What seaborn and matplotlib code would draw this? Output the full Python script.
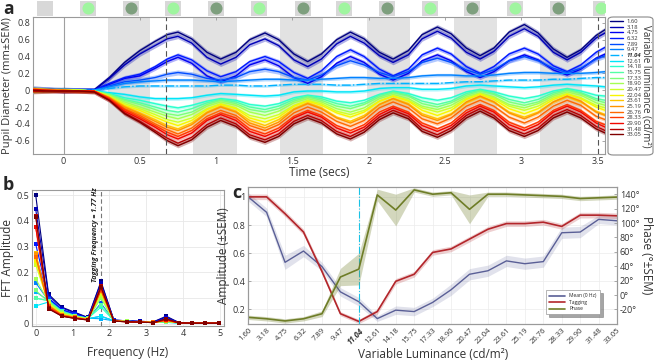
import numpy as np
import pandas as pd
import seaborn as sns
import matplotlib.pyplot as plt
from matplotlib.lines import Line2D
from matplotlib.patches import FancyBboxPatch

sns.set_style('white')
plt.rcParams['font.family'] = ['Open Sans', 'DejaVu Sans']
plt.rcParams['axes.unicode_minus'] = False

# luminance levels (cd/m2)
lum_labels = ['1.60', '3.18', '4.75', '6.32', '7.89', '9.47', '11.04', '12.61',
              '14.18', '15.75', '17.33', '18.90', '20.47', '22.04', '23.61',
              '25.19', '26.76', '28.33', '29.90', '31.48', '33.05']

# ---- panel a: pupil traces (mm)
t_pre = [-0.2, -0.1, 0.0, 0.1, 0.2, 0.3, 0.4, 0.5, 0.6, 0.68]
t_osc = [0.75, 0.84, 0.94, 1.03, 1.13, 1.22, 1.32, 1.41, 1.51, 1.60, 1.69, 1.79,
         1.88, 1.97, 2.07, 2.16, 2.26, 2.35, 2.45, 2.54, 2.64, 2.73, 2.82, 2.92,
         3.02, 3.11, 3.21, 3.30, 3.39, 3.49, 3.55]
time = t_pre + t_osc

pupil_1_60 = [0.02, 0.01, 0.00, 0.00, 0.00, 0.15, 0.33, 0.47, 0.58, 0.66, 0.69, 0.61, 0.45, 0.37, 0.45, 0.60, 0.68, 0.60, 0.43, 0.34, 0.43, 0.60, 0.69, 0.61, 0.45, 0.37, 0.47, 0.66, 0.75, 0.67, 0.50, 0.41, 0.50, 0.69, 0.78, 0.68, 0.49, 0.39, 0.48, 0.65, 0.72]
pupil_3_18 = [-0.01, 0.00, 0.01, 0.00, 0.00, 0.14, 0.30, 0.43, 0.53, 0.61, 0.64, 0.56, 0.39, 0.31, 0.39, 0.54, 0.61, 0.53, 0.36, 0.28, 0.37, 0.55, 0.64, 0.56, 0.41, 0.33, 0.42, 0.61, 0.70, 0.62, 0.45, 0.37, 0.46, 0.64, 0.73, 0.64, 0.45, 0.36, 0.45, 0.62, 0.68]
pupil_4_75 = [0.01, 0.00, -0.01, 0.00, 0.00, 0.07, 0.14, 0.17, 0.26, 0.34, 0.39, 0.32, 0.17, 0.10, 0.17, 0.30, 0.36, 0.29, 0.15, 0.08, 0.16, 0.32, 0.40, 0.33, 0.19, 0.12, 0.20, 0.35, 0.42, 0.35, 0.22, 0.15, 0.22, 0.35, 0.42, 0.36, 0.24, 0.18, 0.25, 0.38, 0.43]
pupil_6_32 = [0.00, 0.01, 0.00, 0.00, 0.00, 0.08, 0.15, 0.19, 0.28, 0.37, 0.42, 0.36, 0.23, 0.16, 0.22, 0.34, 0.40, 0.34, 0.21, 0.14, 0.23, 0.40, 0.48, 0.40, 0.25, 0.17, 0.25, 0.42, 0.50, 0.43, 0.28, 0.20, 0.28, 0.43, 0.50, 0.43, 0.29, 0.22, 0.30, 0.45, 0.51]
pupil_7_89 = [0.02, 0.01, 0.00, 0.00, 0.00, 0.05, 0.10, 0.12, 0.15, 0.19, 0.21, 0.19, 0.14, 0.12, 0.15, 0.22, 0.25, 0.22, 0.15, 0.12, 0.18, 0.29, 0.35, 0.30, 0.21, 0.16, 0.22, 0.33, 0.38, 0.33, 0.24, 0.19, 0.24, 0.35, 0.40, 0.35, 0.26, 0.21, 0.26, 0.37, 0.41]
pupil_9_47 = [0.00, 0.00, 0.01, 0.00, 0.00, 0.04, 0.08, 0.10, 0.11, 0.12, 0.12, 0.12, 0.11, 0.10, 0.11, 0.12, 0.13, 0.13, 0.12, 0.12, 0.13, 0.14, 0.15, 0.15, 0.14, 0.14, 0.15, 0.17, 0.18, 0.18, 0.17, 0.17, 0.18, 0.20, 0.21, 0.21, 0.20, 0.20, 0.20, 0.21, 0.22]
pupil_11_04 = [0.01, 0.00, 0.00, 0.00, 0.00, 0.02, 0.04, 0.05, 0.05, 0.05, 0.05, 0.05, 0.05, 0.06, 0.06, 0.05, 0.05, 0.06, 0.07, 0.07, 0.07, 0.06, 0.06, 0.07, 0.08, 0.08, 0.08, 0.08, 0.08, 0.09, 0.10, 0.10, 0.11, 0.12, 0.12, 0.12, 0.13, 0.13, 0.14, 0.15, 0.15]
pupil_12_61 = [0.00, -0.01, 0.00, 0.00, -0.01, -0.03, -0.05, -0.08, -0.10, -0.10, -0.10, -0.09, -0.06, -0.04, -0.05, -0.06, -0.07, -0.06, -0.02, -0.01, -0.01, -0.02, -0.02, -0.01, 0.02, 0.03, 0.03, 0.01, 0.01, 0.02, 0.05, 0.06, 0.05, 0.04, 0.03, 0.04, 0.06, 0.07, 0.06, 0.05, 0.04]
pupil_14_18 = [0.01, 0.00, 0.00, 0.00, -0.01, -0.04, -0.09, -0.12, -0.16, -0.19, -0.21, -0.18, -0.13, -0.10, -0.12, -0.17, -0.19, -0.16, -0.09, -0.06, -0.08, -0.13, -0.15, -0.12, -0.05, -0.01, -0.04, -0.09, -0.12, -0.09, -0.02, 0.01, -0.02, -0.07, -0.10, -0.07, -0.01, 0.02, -0.01, -0.06, -0.07]
pupil_15_75 = [-0.01, 0.00, 0.00, 0.00, -0.01, -0.05, -0.11, -0.15, -0.20, -0.24, -0.26, -0.22, -0.15, -0.11, -0.14, -0.20, -0.23, -0.19, -0.11, -0.07, -0.10, -0.16, -0.19, -0.15, -0.06, -0.02, -0.06, -0.13, -0.17, -0.13, -0.04, 0.00, -0.04, -0.11, -0.15, -0.11, -0.03, 0.01, -0.03, -0.10, -0.12]
pupil_17_33 = [0.02, 0.01, 0.00, 0.00, -0.01, -0.05, -0.12, -0.17, -0.23, -0.28, -0.30, -0.26, -0.17, -0.12, -0.16, -0.23, -0.26, -0.22, -0.13, -0.08, -0.12, -0.19, -0.22, -0.17, -0.08, -0.03, -0.07, -0.16, -0.20, -0.15, -0.06, -0.01, -0.05, -0.14, -0.18, -0.14, -0.05, 0.00, -0.04, -0.12, -0.15]
pupil_18_90 = [0.00, 0.00, 0.01, 0.00, -0.01, -0.06, -0.14, -0.20, -0.26, -0.31, -0.34, -0.29, -0.19, -0.14, -0.18, -0.26, -0.30, -0.25, -0.15, -0.10, -0.14, -0.22, -0.26, -0.21, -0.10, -0.05, -0.10, -0.19, -0.23, -0.18, -0.08, -0.03, -0.08, -0.17, -0.21, -0.16, -0.07, -0.02, -0.06, -0.15, -0.18]
pupil_20_47 = [-0.02, -0.01, 0.00, 0.00, -0.01, -0.07, -0.16, -0.22, -0.29, -0.35, -0.38, -0.33, -0.22, -0.16, -0.21, -0.30, -0.34, -0.29, -0.18, -0.12, -0.16, -0.25, -0.29, -0.24, -0.13, -0.07, -0.12, -0.21, -0.26, -0.21, -0.10, -0.04, -0.09, -0.19, -0.24, -0.19, -0.09, -0.04, -0.09, -0.18, -0.21]
pupil_22_04 = [0.01, 0.00, 0.00, 0.00, -0.01, -0.08, -0.18, -0.24, -0.32, -0.38, -0.42, -0.36, -0.23, -0.17, -0.22, -0.33, -0.38, -0.32, -0.19, -0.13, -0.18, -0.27, -0.32, -0.26, -0.13, -0.07, -0.13, -0.24, -0.30, -0.24, -0.11, -0.05, -0.11, -0.22, -0.28, -0.22, -0.11, -0.05, -0.10, -0.20, -0.24]
pupil_23_61 = [-0.01, 0.00, 0.00, -0.01, -0.01, -0.08, -0.19, -0.27, -0.35, -0.42, -0.46, -0.39, -0.26, -0.19, -0.25, -0.36, -0.42, -0.35, -0.22, -0.15, -0.21, -0.32, -0.37, -0.30, -0.17, -0.10, -0.16, -0.28, -0.34, -0.28, -0.15, -0.08, -0.14, -0.26, -0.32, -0.26, -0.14, -0.08, -0.14, -0.25, -0.29]
pupil_25_19 = [0.02, 0.01, 0.00, -0.01, -0.01, -0.09, -0.20, -0.28, -0.37, -0.44, -0.48, -0.41, -0.27, -0.20, -0.26, -0.39, -0.45, -0.38, -0.23, -0.16, -0.22, -0.33, -0.39, -0.32, -0.17, -0.10, -0.17, -0.30, -0.36, -0.29, -0.14, -0.07, -0.14, -0.27, -0.34, -0.27, -0.14, -0.07, -0.13, -0.26, -0.30]
pupil_26_76 = [0.00, 0.00, -0.01, -0.01, -0.01, -0.09, -0.22, -0.30, -0.40, -0.47, -0.52, -0.45, -0.31, -0.24, -0.30, -0.42, -0.48, -0.41, -0.27, -0.20, -0.26, -0.37, -0.43, -0.36, -0.21, -0.14, -0.21, -0.34, -0.40, -0.33, -0.19, -0.12, -0.19, -0.32, -0.39, -0.32, -0.19, -0.12, -0.18, -0.31, -0.35]
pupil_28_33 = [-0.01, -0.01, 0.00, -0.01, -0.01, -0.10, -0.23, -0.32, -0.42, -0.50, -0.55, -0.48, -0.34, -0.27, -0.33, -0.46, -0.52, -0.45, -0.31, -0.24, -0.30, -0.42, -0.48, -0.41, -0.26, -0.19, -0.26, -0.39, -0.46, -0.39, -0.24, -0.17, -0.24, -0.38, -0.45, -0.38, -0.24, -0.17, -0.24, -0.37, -0.41]
pupil_29_90 = [0.01, 0.00, -0.01, -0.01, -0.01, -0.11, -0.25, -0.34, -0.44, -0.53, -0.58, -0.51, -0.36, -0.29, -0.36, -0.49, -0.55, -0.48, -0.33, -0.26, -0.32, -0.45, -0.51, -0.44, -0.29, -0.21, -0.28, -0.42, -0.49, -0.42, -0.27, -0.19, -0.26, -0.41, -0.48, -0.41, -0.26, -0.19, -0.26, -0.39, -0.44]
pupil_31_48 = [-0.02, -0.01, -0.01, -0.01, -0.02, -0.12, -0.27, -0.37, -0.48, -0.57, -0.63, -0.56, -0.41, -0.33, -0.40, -0.53, -0.59, -0.52, -0.37, -0.30, -0.36, -0.49, -0.55, -0.47, -0.32, -0.24, -0.31, -0.46, -0.53, -0.45, -0.30, -0.22, -0.30, -0.45, -0.52, -0.45, -0.30, -0.23, -0.30, -0.43, -0.48]
pupil_33_05 = [0.00, -0.01, -0.01, -0.01, -0.02, -0.12, -0.28, -0.38, -0.50, -0.60, -0.66, -0.59, -0.44, -0.36, -0.43, -0.56, -0.62, -0.55, -0.40, -0.33, -0.39, -0.52, -0.58, -0.50, -0.35, -0.27, -0.34, -0.49, -0.56, -0.48, -0.33, -0.25, -0.33, -0.48, -0.55, -0.48, -0.33, -0.26, -0.33, -0.46, -0.51]

pupil_series = [pupil_1_60, pupil_3_18, pupil_4_75, pupil_6_32, pupil_7_89, pupil_9_47,
                pupil_11_04, pupil_12_61, pupil_14_18, pupil_15_75, pupil_17_33,
                pupil_18_90, pupil_20_47, pupil_22_04, pupil_23_61, pupil_25_19,
                pupil_26_76, pupil_28_33, pupil_29_90, pupil_31_48, pupil_33_05]
pupil_sem = [0.03, 0.028, 0.025, 0.025, 0.03, 0.02, 0.015, 0.02, 0.02, 0.02, 0.02,
             0.02, 0.02, 0.02, 0.02, 0.02, 0.022, 0.022, 0.022, 0.025, 0.025]

# grey (dark) half-cycles and stimulus icons
gray_on = [0.29, 0.85, 1.42, 1.99, 2.56, 3.12]
gray_off = [0.57, 1.14, 1.70, 2.27, 2.84, 3.40]
stim_t = [-0.12, 0.16, 0.44, 0.72, 1.00, 1.28, 1.57, 1.84, 2.12, 2.40, 2.68, 2.96, 3.24, 3.52]
stim_kind = ['grey', 'bright', 'dark', 'bright', 'dark', 'bright', 'dark',
             'bright', 'dark', 'bright', 'dark', 'bright', 'dark', 'bright']

# ---- panel b: FFT amplitude per frequency bin (one list per bin, across luminances)
freqs = [0, 0.35, 0.71, 1.06, 1.42, 1.77, 2.12, 2.48, 2.83, 3.19, 3.54, 3.89, 4.25, 4.60, 4.96]
amp_f00 = [0.50, 0.445, 0.265, 0.31, 0.25, 0.16, 0.125, 0.07, 0.10, 0.10, 0.13, 0.175, 0.23, 0.245, 0.275, 0.27, 0.26, 0.375, 0.375, 0.42, 0.415]
amp_f01 = [0.115, 0.11, 0.10, 0.10, 0.095, 0.09, 0.09, 0.085, 0.09, 0.09, 0.085, 0.085, 0.08, 0.075, 0.075, 0.07, 0.07, 0.065, 0.063, 0.06, 0.058]
amp_f02 = [0.065, 0.062, 0.055, 0.055, 0.05, 0.045, 0.045, 0.045, 0.05, 0.048, 0.045, 0.042, 0.04, 0.038, 0.036, 0.035, 0.035, 0.032, 0.031, 0.03, 0.03]
amp_f03 = [0.045, 0.043, 0.04, 0.038, 0.035, 0.03, 0.03, 0.03, 0.032, 0.032, 0.03, 0.03, 0.028, 0.027, 0.026, 0.025, 0.025, 0.023, 0.022, 0.022, 0.021]
amp_f04 = [0.025, 0.024, 0.022, 0.022, 0.02, 0.02, 0.022, 0.02, 0.022, 0.022, 0.02, 0.02, 0.019, 0.018, 0.018, 0.017, 0.017, 0.016, 0.016, 0.015, 0.015]
amp_f05 = [0.165, 0.16, 0.145, 0.125, 0.08, 0.03, 0.02, 0.03, 0.065, 0.075, 0.10, 0.105, 0.115, 0.125, 0.135, 0.135, 0.135, 0.13, 0.145, 0.148, 0.142]
amp_f06 = [0.015, 0.015, 0.014, 0.014, 0.013, 0.012, 0.012, 0.012, 0.013, 0.013, 0.012, 0.012, 0.012, 0.012, 0.012, 0.011, 0.011, 0.011, 0.011, 0.011, 0.011]
amp_f07 = [0.012, 0.012, 0.011, 0.011, 0.010, 0.010, 0.010, 0.009, 0.010, 0.010, 0.010, 0.010, 0.009, 0.009, 0.009, 0.009, 0.009, 0.009, 0.008, 0.008, 0.008]
amp_f08 = [0.010, 0.010, 0.009, 0.009, 0.008, 0.008, 0.008, 0.008, 0.008, 0.008, 0.008, 0.008, 0.008, 0.008, 0.007, 0.007, 0.007, 0.007, 0.007, 0.007, 0.007]
amp_f09 = [0.008, 0.008, 0.007, 0.007, 0.007, 0.006, 0.006, 0.006, 0.006, 0.006, 0.006, 0.006, 0.006, 0.006, 0.006, 0.006, 0.006, 0.005, 0.005, 0.005, 0.005]
amp_f10 = [0.030, 0.026, 0.022, 0.020, 0.014, 0.008, 0.006, 0.006, 0.008, 0.008, 0.009, 0.010, 0.011, 0.012, 0.013, 0.013, 0.014, 0.015, 0.016, 0.018, 0.020]
amp_f11 = [0.005, 0.005, 0.005, 0.005, 0.004, 0.004, 0.004, 0.004, 0.004, 0.004, 0.004, 0.004, 0.004, 0.004, 0.004, 0.004, 0.004, 0.004, 0.004, 0.004, 0.004]
amp_f12 = [0.005, 0.005, 0.004, 0.004, 0.004, 0.004, 0.003, 0.003, 0.003, 0.003, 0.003, 0.003, 0.003, 0.003, 0.003, 0.003, 0.003, 0.003, 0.003, 0.003, 0.003]
amp_f13 = [0.004, 0.004, 0.004, 0.004, 0.003, 0.003, 0.003, 0.003, 0.003, 0.003, 0.003, 0.003, 0.003, 0.003, 0.003, 0.003, 0.003, 0.003, 0.003, 0.003, 0.003]
amp_f14 = [0.004, 0.004, 0.004, 0.003, 0.003, 0.003, 0.003, 0.003, 0.003, 0.003, 0.003, 0.003, 0.003, 0.003, 0.003, 0.003, 0.003, 0.003, 0.003, 0.003, 0.003]
amp_bins = [amp_f00, amp_f01, amp_f02, amp_f03, amp_f04, amp_f05, amp_f06, amp_f07,
            amp_f08, amp_f09, amp_f10, amp_f11, amp_f12, amp_f13, amp_f14]
tag_freq = 1.77

# ---- panel c: normalised amplitudes and phase
mean_amp = [1.0, 0.89, 0.535, 0.615, 0.505, 0.325, 0.255, 0.135, 0.195, 0.185, 0.25, 0.34, 0.45, 0.475, 0.545, 0.525, 0.54, 0.745, 0.75, 0.84, 0.83]
mean_sem = [0.03, 0.03, 0.05, 0.04, 0.03, 0.03, 0.03, 0.02, 0.03, 0.03, 0.03, 0.04, 0.04, 0.04, 0.04, 0.04, 0.04, 0.04, 0.04, 0.03, 0.03]
tag_amp = [1.0, 1.0, 0.88, 0.75, 0.47, 0.17, 0.115, 0.185, 0.40, 0.45, 0.605, 0.63, 0.70, 0.77, 0.81, 0.81, 0.82, 0.79, 0.87, 0.87, 0.865]
tag_sem = [0.02, 0.02, 0.02, 0.02, 0.02, 0.015, 0.015, 0.02, 0.02, 0.02, 0.02, 0.02, 0.02, 0.02, 0.02, 0.02, 0.02, 0.02, 0.02, 0.02, 0.02]
phase = [-31, -33, -36, -33, -26, 25, 36, 139, 118, 146, 140, 142, 119, 140, 140, 139, 138, 137, 134, 135, 136]
phase_sem = [3, 3, 3, 3, 4, 12, 22, 8, 22, 3, 3, 3, 20, 3, 3, 3, 3, 3, 3, 3, 3]

colors = [plt.get_cmap('jet')(v) for v in np.linspace(0, 1, len(lum_labels))]
spine_c = '#9a9a9a'
txt_c = '#333333'

fig = plt.figure(figsize=(6.6, 3.61), dpi=100)


def style_box(ax):
    for s in ax.spines.values():
        s.set_color(spine_c)
        s.set_linewidth(0.8)
    ax.tick_params(direction='in', length=2.5, width=0.6, color=spine_c,
                   labelsize=6.5, labelcolor=txt_c, pad=2)


# ================= panel a
ax_a = fig.add_axes([0.05, 0.573, 0.867, 0.38])
for on, off in zip(gray_on, gray_off):
    ax_a.axvspan(on, off, color='#e2e2e2', lw=0, zorder=0)
ax_a.axvline(0, color='#a0a0a0', lw=0.8, zorder=1)

for i, (lab, y) in enumerate(zip(lum_labels, pupil_series)):
    y = np.array(y)
    ax_a.fill_between(time, y - pupil_sem[i], y + pupil_sem[i], color=colors[i],
                      alpha=0.3, lw=0, zorder=2)
    sns.lineplot(x=time, y=y, ax=ax_a, color=colors[i], lw=1.0, zorder=3,
                 linestyle='-.' if lab == '11.04' else '-')

ax_a.axvline(0.67, color='#555555', lw=0.8, ls=(0, (5, 3)), zorder=4)
ax_a.axvline(3.5, color='#555555', lw=0.8, ls=(0, (5, 3)), zorder=4)
ax_a.set_xlim(-0.2, 3.55)
ax_a.set_ylim(-0.76, 0.87)
ax_a.set_xticks([0, 0.5, 1, 1.5, 2, 2.5, 3, 3.5])
ax_a.set_xticklabels(['0', '0.5', '1', '1.5', '2', '2.5', '3', '3.5'])
ax_a.set_yticks([-0.6, -0.4, -0.2, 0, 0.2, 0.4, 0.6, 0.8])
ax_a.set_yticklabels(['-0.6', '-0.4', '-0.2', '0', '0.2', '0.4', '0.6', '0.8'])
style_box(ax_a)
ax_a.tick_params(top=True, right=True)
ax_a.set_xlabel('Time (secs)', fontsize=8.5, color=txt_c, labelpad=0)
ax_a.set_ylabel('Pupil Diameter (mm±SEM)', fontsize=8, color=txt_c, labelpad=1)

# stimulus strip
ax_s = fig.add_axes([0.05, 0.953, 0.867, 0.047], sharex=ax_a)
ax_s.bar(stim_t, 0.94, width=0.105, bottom=0.03, color='#d8d8d8', lw=0)
for kind, fc in [('bright', '#9ff59f'), ('dark', '#7e9f7e')]:
    xs = [t for t, k in zip(stim_t, stim_kind) if k == kind]
    ax_s.scatter(xs, [0.5] * len(xs), s=75, color=fc, lw=0, zorder=3)
ax_s.set_ylim(0, 1)
ax_s.axis('off')

# legend with rotated title in a rounded box
handles = [Line2D([0], [0], color=c, lw=1.0, ls='-.' if l == '11.04' else '-')
           for c, l in zip(colors, lum_labels)]
fig.add_artist(FancyBboxPatch((608 / 660, 1 - 155 / 361), 45 / 660, 138 / 361,
                              boxstyle='round,pad=0,rounding_size=0.008',
                              transform=fig.transFigure, fc='white', ec='#8a8a8a',
                              lw=0.8, zorder=-1))
leg = ax_a.legend(handles, lum_labels, loc='upper left',
                  bbox_to_anchor=(610 / 660, 1 - 19 / 361), bbox_transform=fig.transFigure,
                  frameon=False, fontsize=4.2, handlelength=2.3, handletextpad=0.5,
                  labelspacing=0.1, borderpad=0, borderaxespad=0)
for tx in leg.get_texts():
    tx.set_color(txt_c)
leg.get_texts()[6].set_fontweight('bold')
leg.get_texts()[6].set_fontstyle('italic')
fig.text(646 / 660, 1 - 86 / 361, 'Variable luminance (cd/m²)', rotation=270,
         ha='center', va='center', fontsize=7, color=txt_c)

# ================= panel b
ax_b = fig.add_axes([0.0485, 0.097, 0.2905, 0.377])
rows = []
for k, f in enumerate(freqs):
    for i, lab in enumerate(lum_labels):
        rows.append({'freq': f, 'amp': amp_bins[k][i], 'lum': lab})
fft_df = pd.DataFrame(rows)
ax_b.grid(True, color='#e8e8e8', lw=0.6)
ax_b.axvline(tag_freq, color='#777777', lw=0.8, ls=(0, (4, 2.5)), zorder=1)
sns.lineplot(data=fft_df, x='freq', y='amp', hue='lum', hue_order=lum_labels,
             palette=colors, marker='s', markersize=2.6, markeredgewidth=0,
             lw=0.8, legend=False, ax=ax_b, zorder=3)
ax_b.text(tag_freq - 0.14, 0.345, 'Tagging Frequency = 1.77 Hz', rotation=90,
          ha='center', va='center', fontsize=5.2, fontweight='bold',
          fontstyle='italic', color='#222222')
ax_b.set_xlim(-0.1, 5.1)
ax_b.set_ylim(-0.008, 0.52)
ax_b.set_xticks([0, 1, 2, 3, 4, 5])
ax_b.set_yticks([0, 0.1, 0.2, 0.3, 0.4, 0.5])
ax_b.set_yticklabels(['0', '0.1', '0.2', '0.3', '0.4', '0.5'])
style_box(ax_b)
ax_b.set_xlabel('Frequency (Hz)', fontsize=8.5, color=txt_c, labelpad=6)
ax_b.set_ylabel('FFT Amplitude', fontsize=8.5, color=txt_c, labelpad=2)

# ================= panel c
ax_c = fig.add_axes([0.376, 0.103, 0.559, 0.379])
xi = np.arange(len(lum_labels))
mean_c, tag_c, phase_c = '#5a5f96', '#b3262b', '#6e7d27'
ax_c.grid(True, color='#ececec', lw=0.5)
ax_c.fill_between(xi, np.array(mean_amp) - mean_sem, np.array(mean_amp) + mean_sem,
                  color=mean_c, alpha=0.18, lw=0)
ax_c.fill_between(xi, np.array(tag_amp) - tag_sem, np.array(tag_amp) + tag_sem,
                  color=tag_c, alpha=0.22, lw=0)
sns.lineplot(x=xi, y=mean_amp, ax=ax_c, color=mean_c, lw=1.0)
sns.lineplot(x=xi, y=tag_amp, ax=ax_c, color=tag_c, lw=1.2)
ax_c.axvline(6, color='#19c3e6', lw=0.8, ls='-.')
ax_c.set_xlim(0, len(lum_labels) - 1)
ax_c.set_ylim(0.098, 1.07)
ax_c.set_yticks([0.2, 0.4, 0.6, 0.8, 1.0])
ax_c.set_yticklabels(['0.2', '0.4', '0.6', '0.8', '1'])
ax_c.set_xticks(xi)
ax_c.set_xticklabels(lum_labels, rotation=45, ha='right', rotation_mode='anchor')
style_box(ax_c)
ax_c.tick_params(axis='x', labelsize=5.5)
xt = ax_c.get_xticklabels()[6]
xt.set_fontweight('bold')
xt.set_fontstyle('italic')
ax_c.set_xlabel('Variable Luminance (cd/m²)', fontsize=8.5, color=txt_c, labelpad=1)
ax_c.set_ylabel('Amplitude (±SEM)', fontsize=8.5, color=txt_c, labelpad=2)

ax_p = ax_c.twinx()
ax_p.fill_between(xi, np.array(phase) - phase_sem, np.array(phase) + phase_sem,
                  color=phase_c, alpha=0.3, lw=0)
sns.lineplot(x=xi, y=phase, ax=ax_p, color=phase_c, lw=1.2)
ax_p.set_ylim(-40, 150)
ax_p.set_yticks([-20, 0, 20, 40, 60, 80, 100, 120, 140])
ax_p.set_yticklabels([f'{v}°' for v in [-20, 0, 20, 40, 60, 80, 100, 120, 140]])
style_box(ax_p)
ax_p.set_ylabel('Phase (°±SEM)', fontsize=8.5, color=txt_c, rotation=270, labelpad=10)
lh = [Line2D([0], [0], color=mean_c, lw=1.2), Line2D([0], [0], color=tag_c, lw=1.2),
      Line2D([0], [0], color=phase_c, lw=1.2)]
lg = ax_p.legend(lh, ['Mean (0 Hz)', 'Tagging', 'Phase'], loc='lower right',
                 bbox_to_anchor=(0.96, 0.05), fontsize=3.6, handlelength=3.2,
                 frameon=True, fancybox=False, shadow=True, edgecolor='#999999',
                 borderpad=0.6, labelspacing=0.3)
lg.get_frame().set_linewidth(0.5)

# panel letters
fig.text(3 / 660, 1 - 0 / 361, 'a', fontsize=12.5, fontweight='bold', va='top')
fig.text(3 / 660, 1 - 176 / 361, 'b', fontsize=13, fontweight='bold', va='top')
fig.text(232 / 660, 1 - 184 / 361, 'c', fontsize=13, fontweight='bold', va='top')

fig.savefig('out.png', dpi=100)
